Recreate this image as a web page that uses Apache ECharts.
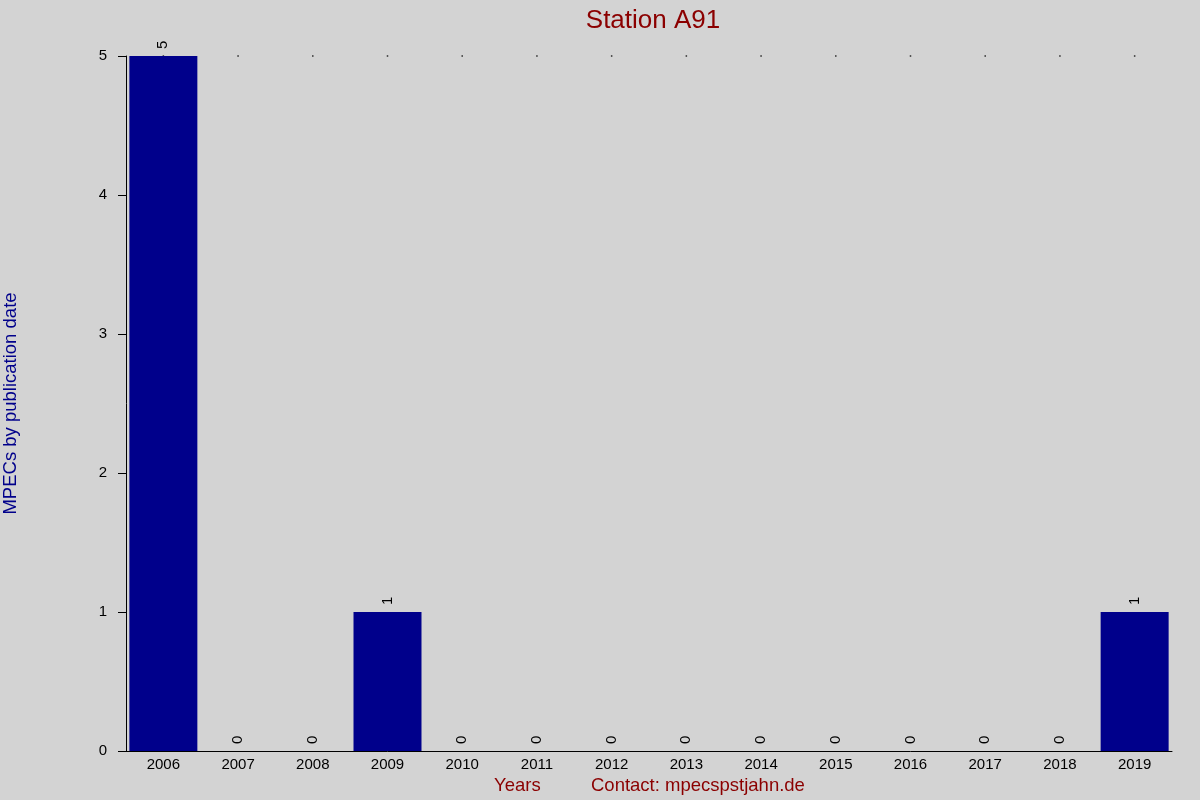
<!DOCTYPE html>
<html><head><meta charset="utf-8">
<script src="https://cdn.jsdelivr.net/npm/echarts@6/dist/echarts.min.js"></script>
<style>html,body{margin:0;padding:0;background:#d3d3d3}#c{width:1200px;height:800px}</style>
</head><body><div id="c"></div>
<script>
var categories = ['2006','2007','2008','2009','2010','2011','2012','2013','2014','2015','2016','2017','2018','2019'];
var counts = [5,0,0,1,0,0,0,0,0,0,0,0,0,1];
var topDots = [5,5,5,5,5,5,5,5,5,5,5,5,5,5];
var yTicks = [0,1,2,3,4,5];
var FF = 'Liberation Sans, Arial, Helvetica, sans-serif';
var chart = echarts.init(document.getElementById('c'));
chart.setOption({
  backgroundColor:'#d3d3d3',
  animation:false,
  textStyle:{fontFamily:FF},
  title:{text:'Station A91',left:648,top:3,textAlign:'center',
    textStyle:{color:'#8b0000',fontSize:26,fontWeight:'normal',fontFamily:FF}},
  graphic:[
    {type:'text',left:494,top:776,style:{text:'Years',fill:'#8b0000',fontSize:18.5,fontFamily:FF}},
    {type:'text',left:591,top:776,style:{text:'Contact: mpecspstjahn.de',fill:'#8b0000',fontSize:18.5,fontFamily:FF}}
  ],
  grid:{left:126,right:28,top:56,bottom:49,containLabel:false,outerBoundsMode:'none'},
  xAxis:{type:'category',data:categories,
    axisLine:{show:true,onZero:false,lineStyle:{color:'#000',width:1}},
    axisTick:{show:false},
    axisLabel:{color:'#000',fontSize:15,margin:6},
    splitLine:{show:false}},
  yAxis:{type:'value',min:0,max:5,interval:1,
    name:'MPECs by publication date',nameLocation:'middle',nameGap:106,
    nameTextStyle:{color:'#00008b',fontSize:18.5,fontFamily:FF},
    axisLine:{show:true,lineStyle:{color:'#000'}},
    axisTick:{show:true,length:8,lineStyle:{color:'#000'}},
    axisLabel:{color:'#000',fontSize:15,margin:19,
      formatter:function(v){return yTicks.indexOf(v)>=0?String(v):'';}},
    splitLine:{show:false}},
  series:[
    {type:'bar',data:counts,barCategoryGap:'9%',
      itemStyle:{color:'#00008b'},
      label:{show:true,position:'top',rotate:90,align:'left',verticalAlign:'middle',distance:7,
        color:'#000',fontSize:15,formatter:function(p){return String(p.value);}}},
    {type:'scatter',data:topDots,symbol:'rect',symbolSize:1.5,
      itemStyle:{color:'#000'},silent:true,z:1}
  ]
});
</script></body></html>
